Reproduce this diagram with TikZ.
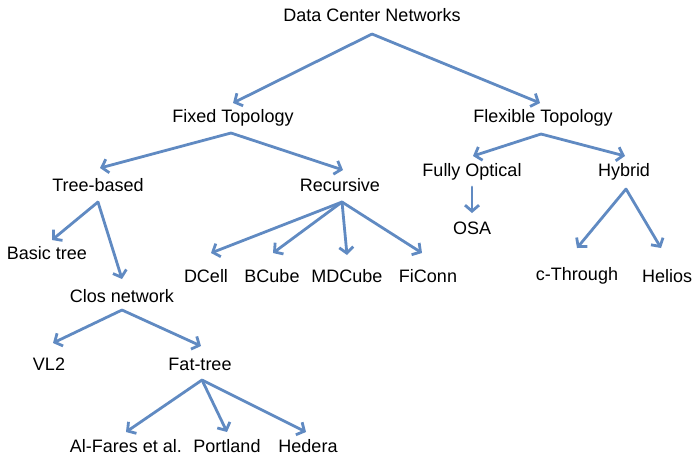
\documentclass[tikz,border=0pt]{standalone}
\usepackage{fontspec}
\setmainfont{Liberation Sans}
\usetikzlibrary{arrows.meta}
\definecolor{arrblue}{RGB}{96,138,194}
\begin{document}
\begin{tikzpicture}[x=1pt,y=-1pt,
  lbl/.style={font=\fontsize{18}{20}\selectfont, inner sep=0pt, anchor=center},
  arr/.style={draw=arrblue, line width=2.8pt, line cap=round,
    -{Straight Barb[length=6pt,width=14pt,line width=2.8pt]}}]
\useasboundingbox (0,0) rectangle (700,459);
% nodes
\node[lbl] (dcn) at (372,15) {Data Center Networks};
\node[lbl] (fixed) at (233,118) {Fixed Topology};
\node[lbl] (flex) at (543,118) {Flexible Topology};
\node[lbl] (tree) at (98,185) {Tree-based};
\node[lbl] (rec) at (340,185) {Recursive};
\node[lbl] (fully) at (472,172) {Fully Optical};
\node[lbl] (hybrid) at (624,172) {Hybrid};
\node[lbl] (osa) at (472,228) {OSA};
\node[lbl] (basic) at (47,253) {Basic tree};
\node[lbl] (clos) at (122,296) {Clos network};
\node[lbl] (dcell) at (206,276) {DCell};
\node[lbl] (bcube) at (272,276) {BCube};
\node[lbl] (mdcube) at (347,276) {MDCube};
\node[lbl] (ficonn) at (428,276) {FiConn};
\node[lbl] (cthrough) at (577,276) {c-Through};
\node[lbl] (helios) at (667,276) {Helios};
\node[lbl] (vl2) at (49,364) {VL2};
\node[lbl] (fattree) at (200,364) {Fat-tree};
\node[lbl] (alfares) at (126,446) {Al-Fares et al.};
\node[lbl] (portland) at (227,446) {Portland};
\node[lbl] (hedera) at (308,446) {Hedera};
% connectors
\draw[arr] ([shift={(0,19)}]dcn.center) -- ([shift={(0,-15)}]fixed.center);
\draw[arr] ([shift={(0,19)}]dcn.center) -- ([shift={(-3,-15)}]flex.center);
\draw[arr] ([shift={(-2,15)}]fixed.center) -- ([shift={(2,-17)}]tree.center);
\draw[arr] ([shift={(-2,15)}]fixed.center) -- ([shift={(3,-15)}]rec.center);
\draw[arr] ([shift={(-2,16)}]flex.center) -- ([shift={(1,-16)}]fully.center);
\draw[arr] ([shift={(-2,16)}]flex.center) -- ([shift={(1,-16)}]hybrid.center);
\draw[arr] ([shift={(0,15)}]fully.center) -- ([shift={(0,-15)}]osa.center);
\draw[arr] ([shift={(2,17)}]hybrid.center) -- ([shift={(0,-28)}]cthrough.center);
\draw[arr] ([shift={(2,17)}]hybrid.center) -- ([shift={(-6,-28)}]helios.center);
\draw[arr] ([shift={(0,17)}]tree.center) -- ([shift={(5,-13)}]basic.center);
\draw[arr] ([shift={(0,17)}]tree.center) -- ([shift={(0,-17)}]clos.center);
\draw[arr] ([shift={(2,17)}]rec.center) -- ([shift={(5,-23)}]dcell.center);
\draw[arr] ([shift={(2,17)}]rec.center) -- ([shift={(1,-23)}]bcube.center);
\draw[arr] ([shift={(2,17)}]rec.center) -- ([shift={(0,-21)}]mdcube.center);
\draw[arr] ([shift={(2,17)}]rec.center) -- ([shift={(-6,-23)}]ficonn.center);
\draw[arr] ([shift={(0,14)}]clos.center) -- ([shift={(4,-21)}]vl2.center);
\draw[arr] ([shift={(0,14)}]clos.center) -- ([shift={(1,-18)}]fattree.center);
\draw[arr] ([shift={(2,16)}]fattree.center) -- ([shift={(0,-14)}]alfares.center);
\draw[arr] ([shift={(2,16)}]fattree.center) -- ([shift={(0,-14)}]portland.center);
\draw[arr] ([shift={(2,16)}]fattree.center) -- ([shift={(-2,-14)}]hedera.center);
\end{tikzpicture}
\end{document}
